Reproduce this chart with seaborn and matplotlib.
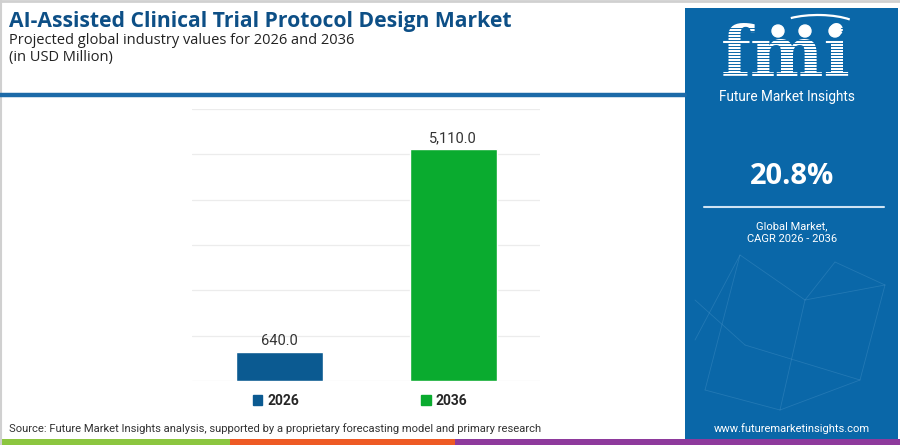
import matplotlib
matplotlib.use("Agg")
import matplotlib.pyplot as plt
import seaborn as sns
import pandas as pd
from matplotlib.patches import Rectangle, Circle, Arc
from matplotlib.lines import Line2D

# dane z wykresu
years = ["2026", "2036"]
values = [640.0, 5110.0]
bar_colors = ["#0b5a91", "#0aab2f"]
cagr_text = "20.8%"

TITLE = "AI-Assisted Clinical Trial Protocol Design Market"
SUBTITLE = "Projected global industry values for 2026 and 2036"
UNITS = "(in USD Million)"
SOURCE = ("Source: Future Market Insights analysis, supported by a proprietary "
          "forecasting model and primary research")

PANEL = "#0a67a8"
TITLE_COL = "#0d4f86"

sns.set_theme(style="white")
plt.rcParams["font.family"] = ["Roboto", "DejaVu Sans"]

W, H = 900, 445
fig = plt.figure(figsize=(W / 100, H / 100), dpi=100)
fig.patch.set_facecolor("white")


def px(x, y):
    # piksele (od lewej-gory) -> wspolrzedne figury
    return x / W, 1 - y / H


# ramka i pasek naglowka
fig.add_artist(Line2D([0, 1], [1 - 1 / H, 1 - 1 / H], color="#d0d0d0", lw=2))
fig.add_artist(Line2D([1 / W, 1 / W], [0, 1], color="#d0d0d0", lw=1.5))
fig.add_artist(Line2D([0, 685 / W], [1 - 95 / H] * 2, color="#1c6aa8", lw=3.2))

# pasek kolorow na dole
for x0, x1, c in [(0, 230, "#8cc63f"), (230, 455, "#ee5a24"), (455, 900, "#8e3a9c")]:
    fig.add_artist(Rectangle((x0 / W, 0), (x1 - x0) / W, 6 / H,
                             transform=fig.transFigure, color=c, lw=0))

# tytuly
fig.text(*px(9, 21), TITLE, fontsize=15.2, fontweight="bold", color=TITLE_COL,
         va="center", ha="left", family=["Open Sans", "DejaVu Sans"])
fig.text(*px(9, 40), SUBTITLE, fontsize=10.5, color="#222222", va="center",
         family=["Open Sans", "DejaVu Sans"])
fig.text(*px(9, 57), UNITS, fontsize=10.5, color="#222222", va="center",
         family=["Open Sans", "DejaVu Sans"])
fig.text(*px(9, 429), SOURCE, fontsize=8.1, color="#333333", va="center")

# wykres slupkowy
ax = fig.add_axes([192 / W, 64 / H, 348 / W, 272 / H])
df = pd.DataFrame({"year": years, "value": values})
sns.barplot(data=df, x="year", y="value", hue="year", palette=bar_colors,
            width=0.5, ax=ax, legend=False, saturation=1)
ax.set_xlim(-0.5, 1.5)
ax.set_ylim(0, 6000)
ax.set_yticks(range(0, 6001, 1000))
ax.yaxis.grid(True, color="#ececec", lw=0.9)
ax.set_axisbelow(True)
for s in ax.spines.values():
    s.set_visible(False)
ax.set_xticks([])
ax.tick_params(left=False, labelleft=False)
ax.set_xlabel("")
ax.set_ylabel("")
for cont in ax.containers:
    ax.bar_label(cont, labels=[f"{v:,.1f}" for v in cont.datavalues],
                 padding=3, fontsize=10.5, color="#333333")

handles = [Rectangle((0, 0), 1, 1, color=c) for c in bar_colors]
leg = fig.legend(handles, years, loc="center", bbox_to_anchor=px(360, 401),
                 ncol=2, frameon=False, handlelength=0.7, handleheight=0.7,
                 handletextpad=0.35, columnspacing=8.8,
                 prop={"weight": "bold", "size": 10})

# panel po prawej (wspolrzedne w pikselach obrazu)
pax = fig.add_axes([0, 0, 1, 1], zorder=-1)
pax.set_xlim(0, W)
pax.set_ylim(H, 0)
pax.axis("off")
pax.add_patch(Rectangle((685, 8), 213, 437, color=PANEL, lw=0, zorder=0))

# delikatna siatka w tle
net = [((695, 340), (740, 255)), ((740, 255), (805, 300)), ((805, 300), (885, 285)),
       ((740, 255), (705, 390)), ((805, 300), (780, 410)), ((835, 262), (885, 285)),
       ((835, 262), (805, 300)), ((705, 390), (780, 410)), ((780, 410), (860, 380)),
       ((860, 380), (885, 285)), ((745, 345), (860, 380)), ((695, 300), (745, 345))]
for (x0, y0), (x1, y1) in net:
    pax.plot([x0, x1], [y0, y1], color="#5aa0d0", lw=0.6, alpha=0.3, zorder=1)

# logo fmi
pax.text(786, 56, "fmi", fontsize=50, fontweight="bold", color="white",
         family="DejaVu Serif", ha="center", va="center", zorder=2)
for yy in range(28, 84, 3):
    pax.plot([715, 860], [yy, yy], color=PANEL, lw=0.7, zorder=3)
for cx in (778, 805, 835):
    pax.add_patch(Circle((cx, 31), 6, color="white", zorder=4))
pax.add_patch(Arc((818, 28), 84, 26, theta1=200, theta2=345, color="white",
                  lw=1.6, zorder=4))
pax.text(787, 97, "Future Market Insights", fontsize=9.8, color="white",
         ha="center", va="center", zorder=4)

pax.text(792, 177, cagr_text, fontsize=21, fontweight="bold", color="white",
         ha="center", va="center", family=["Open Sans", "DejaVu Sans"])
pax.plot([704, 884], [207, 207], color="#cfe3f3", lw=1.5)
pax.text(792, 226, "Global Market,", fontsize=8, color="white", ha="center", va="center")
pax.text(792, 239, "CAGR 2026 - 2036", fontsize=8, color="white", ha="center", va="center")
pax.text(792, 429, "www.futuremarketinsights.com", fontsize=8, color="white",
         ha="center", va="center")

fig.savefig("out.png", dpi=100)
